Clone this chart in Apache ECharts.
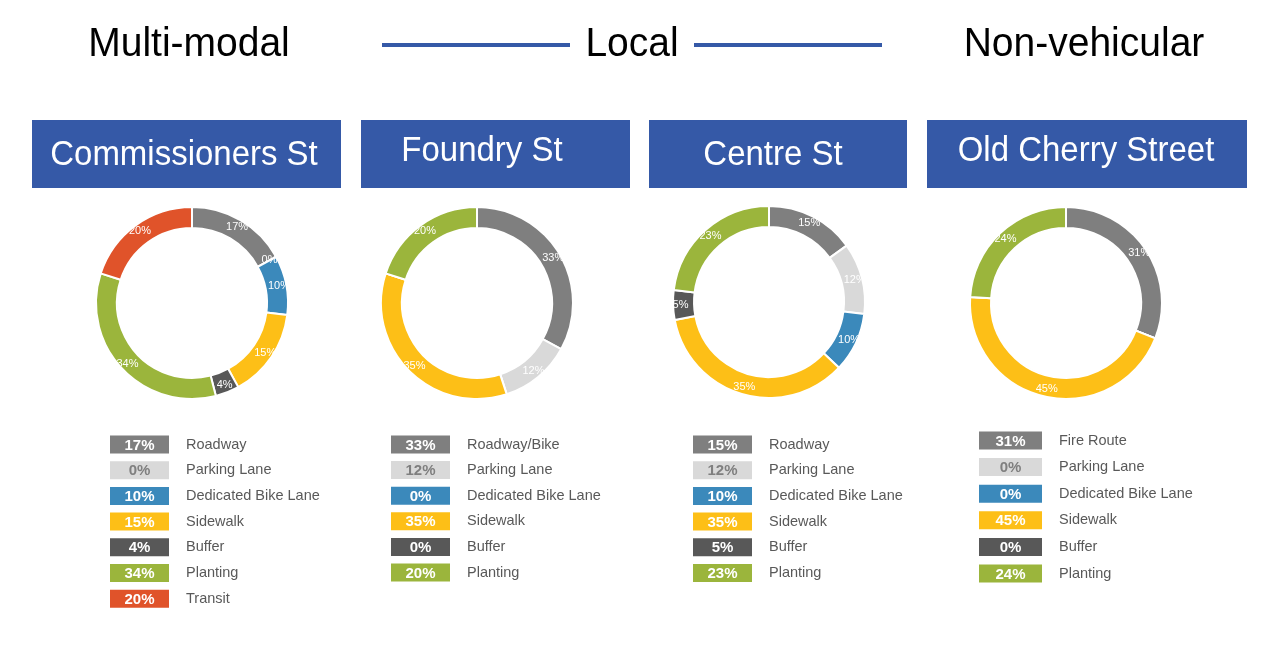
<!DOCTYPE html>
<html>
<head>
<meta charset="utf-8">
<script src="https://cdn.jsdelivr.net/npm/echarts@6/dist/echarts.min.js"></script>
<style>
html, body { margin: 0; padding: 0; background: #fff; }
#main { width: 1280px; height: 663px; }
</style>
</head>
<body>
<div id="main"></div>
<script>
// street names and the classification titles above them
var streets = ['Commissioners St', 'Foundry St', 'Centre St', 'Old Cherry Street'];
var groupTitles = ['Multi-modal', 'Local', 'Non-vehicular'];

// share of right-of-way per element, in %
var commissionersLabels = ['Roadway', 'Parking Lane', 'Dedicated Bike Lane', 'Sidewalk', 'Buffer', 'Planting', 'Transit'];
var commissionersValues = [17, 0, 10, 15, 4, 34, 20];
var foundryLabels = ['Roadway/Bike', 'Parking Lane', 'Dedicated Bike Lane', 'Sidewalk', 'Buffer', 'Planting'];
var foundryValues = [33, 12, 0, 35, 0, 20];
var centreLabels = ['Roadway', 'Parking Lane', 'Dedicated Bike Lane', 'Sidewalk', 'Buffer', 'Planting'];
var centreValues = [15, 12, 10, 35, 5, 23];
var cherryLabels = ['Fire Route', 'Parking Lane', 'Dedicated Bike Lane', 'Sidewalk', 'Buffer', 'Planting'];
var cherryValues = [31, 0, 0, 45, 0, 24];

var segmentColors = ['#7f7f7f', '#d9d9d9', '#3b89bb', '#fdbf17', '#585858', '#9bb53c', '#e0532a'];
var blue = '#3559a7';
var font = '"Liberation Sans", Arial, sans-serif';

var charts = [
    { labels: commissionersLabels, values: commissionersValues, showZero: true },
    { labels: foundryLabels, values: foundryValues, showZero: false },
    { labels: centreLabels, values: centreValues, showZero: false },
    { labels: cherryLabels, values: cherryValues, showZero: false }
];

// layout per column
var pieCenters = [[192, 303], [477, 303], [769, 302], [1066, 303]];
var boxes = [[32, 341], [361, 630], [649, 907], [927, 1247]];
var boxText = [[184, 155], [482, 151], [773, 155], [1086, 151]];
var legendPos = [
    { x: 110, w: 59, y: 444.5, step: 25.7 },
    { x: 391, w: 59, y: 444.5, step: 25.6 },
    { x: 693, w: 59, y: 444.5, step: 25.7 },
    { x: 979, w: 63, y: 440.5, step: 26.6 }
];

var myChart = echarts.init(document.getElementById('main'));

var graphics = [];

// header: titles and connector lines
var titleX = [189, 632, 1084];
groupTitles.forEach((t, i) => {
    graphics.push({
        type: 'text', x: titleX[i], y: 45, scaleY: 1.05,
        style: { text: t, font: '39px ' + font, fill: '#000', align: 'center', verticalAlign: 'middle' }
    });
});
graphics.push({ type: 'line', shape: { x1: 382, y1: 45, x2: 570, y2: 45 }, style: { stroke: blue, lineWidth: 4 } });
graphics.push({ type: 'line', shape: { x1: 694, y1: 45, x2: 882, y2: 45 }, style: { stroke: blue, lineWidth: 4 } });

// street name boxes
streets.forEach((s, i) => {
    graphics.push({
        type: 'rect', shape: { x: boxes[i][0], y: 120, width: boxes[i][1] - boxes[i][0], height: 68 },
        style: { fill: blue }
    });
    graphics.push({
        type: 'text', x: boxText[i][0], y: boxText[i][1], scaleX: 0.97, scaleY: 1.05,
        style: { text: s, font: '34px ' + font, fill: '#fff', align: 'center', verticalAlign: 'middle' }
    });
});

// legends with value boxes
charts.forEach((c, i) => {
    var lp = legendPos[i];
    c.labels.forEach((lab, j) => {
        var cy = lp.y + j * lp.step;
        graphics.push({
            type: 'rect', shape: { x: lp.x, y: cy - 9, width: lp.w, height: 18 },
            style: { fill: segmentColors[j] }
        });
        graphics.push({
            type: 'text', x: lp.x + lp.w / 2, y: cy + 1,
            style: {
                text: c.values[j] + '%', font: 'bold 15px ' + font,
                fill: j == 1 ? '#7f7f7f' : '#fff', align: 'center', verticalAlign: 'middle'
            }
        });
        graphics.push({
            type: 'text', x: lp.x + lp.w + 17, y: cy,
            style: { text: lab, font: '14.5px ' + font, fill: '#595959', align: 'left', verticalAlign: 'middle' }
        });
    });
});

var series = charts.map((c, i) => ({
    type: 'pie',
    center: pieCenters[i],
    radius: [75, 96],
    startAngle: 90,
    clockwise: true,
    silent: true,
    avoidLabelOverlap: false,
    itemStyle: { borderColor: '#fff', borderWidth: 2 },
    label: {
        position: 'inside',
        formatter: '{c}%',
        color: '#fff',
        fontSize: 11,
        fontFamily: font
    },
    labelLine: { show: false },
    data: c.values.map((v, j) => ({
        name: c.labels[j],
        value: v,
        itemStyle: { color: segmentColors[j] },
        label: { show: v > 0 || c.showZero }
    }))
}));

option = {
    animation: false,
    graphic: graphics,
    series: series
};

myChart.setOption(option);
</script>
</body>
</html>
